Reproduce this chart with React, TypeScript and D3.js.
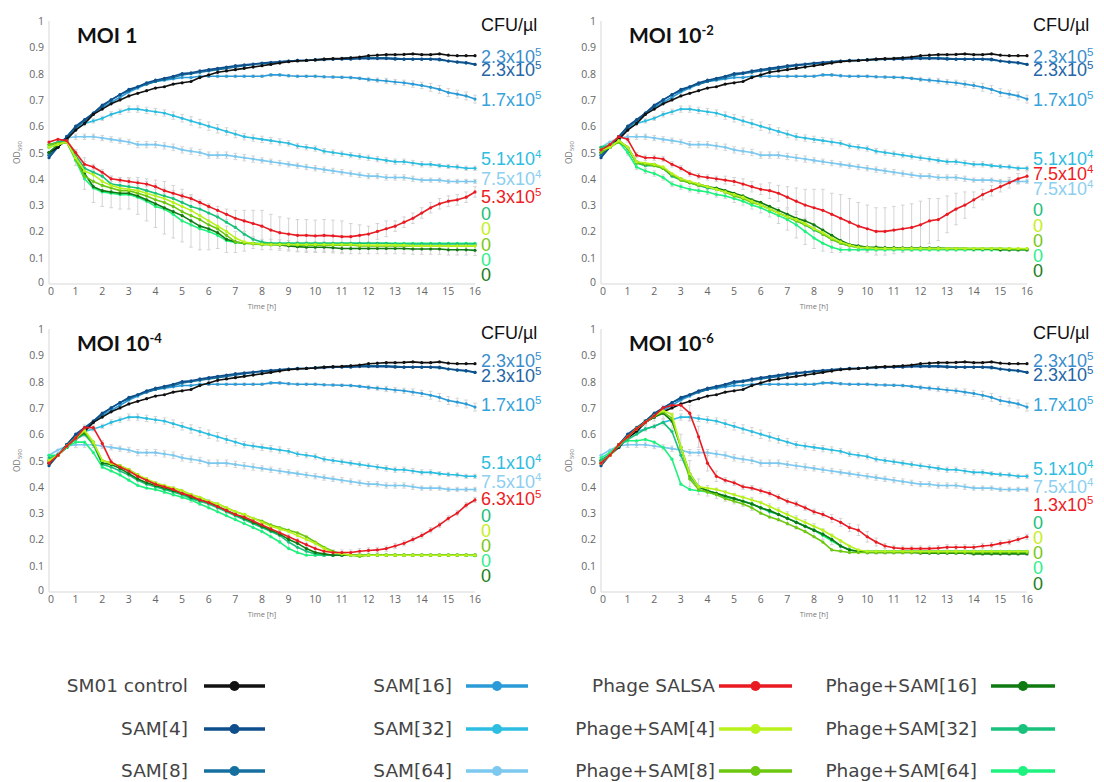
import { useRef, useEffect } from 'react';
import * as d3 from 'd3';

const W = 1104;
const H = 782;

// sampled every 20 min, 0..16 h
const TIME = d3.range(49).map(i => i / 3);

// ---- shared (no phage) curves, identical in all four panels ----
const CONTROL = [
  .50, .52, .55, .585, .61, .645, .665, .685, .70, .715,
  .725, .735, .745, .75, .76, .765, .77, .785, .795, .805,
  .81, .815, .82, .825, .83, .835, .84, .845, .848, .85,
  .852, .855, .857, .858, .86, .863, .868, .87, .872, .872,
  .873, .875, .872, .872, .875, .87, .868, .868, .868];
const SAM4 = [
  .48, .52, .56, .60, .625, .65, .68, .70, .72, .74,
  .75, .765, .775, .782, .79, .80, .803, .81, .815, .82,
  .825, .83, .833, .836, .84, .843, .845, .848, .85, .85,
  .852, .853, .855, .855, .855, .857, .857, .857, .857, .855,
  .855, .855, .855, .855, .855, .848, .845, .842, .835];
const SAM8 = [
  .49, .52, .56, .595, .62, .65, .675, .70, .72, .735,
  .75, .76, .77, .778, .785, .795, .80, .805, .81, .815,
  .82, .825, .83, .835, .838, .84, .845, .848, .85, .85,
  .853, .855, .855, .857, .86, .86, .86, .86, .86, .858,
  .855, .855, .855, .855, .852, .848, .843, .84, .835];
const SAM16 = [
  .49, .52, .56, .595, .62, .645, .67, .69, .71, .73,
  .745, .76, .77, .775, .78, .785, .785, .79, .79, .79,
  .79, .79, .79, .79, .79, .795, .795, .792, .79, .79,
  .79, .788, .787, .786, .785, .782, .778, .775, .772, .768,
  .765, .76, .755, .748, .74, .728, .722, .715, .703];
const SAM32 = [
  .50, .525, .55, .59, .61, .62, .63, .645, .655, .665,
  .665, .66, .655, .65, .64, .63, .62, .61, .60, .59,
  .58, .57, .56, .555, .55, .545, .54, .535, .525, .52,
  .515, .505, .50, .495, .49, .485, .48, .475, .47, .465,
  .465, .46, .455, .455, .45, .447, .445, .44, .44];
const SAM64 = [
  .52, .54, .555, .56, .56, .56, .555, .55, .545, .54,
  .53, .53, .53, .525, .52, .51, .505, .50, .49, .49,
  .49, .485, .48, .475, .47, .465, .46, .455, .45, .445,
  .44, .435, .43, .425, .42, .415, .41, .41, .405, .405,
  .405, .40, .395, .395, .395, .39, .39, .39, .39];

// ---- MOI 1 ----
const RED_1 = [
  .54, .55, .545, .50, .455, .445, .425, .40, .395, .39,
  .385, .38, .37, .355, .345, .335, .325, .31, .295, .28,
  .265, .25, .24, .23, .22, .205, .195, .19, .185, .185,
  .183, .185, .183, .18, .18, .185, .19, .20, .21, .22,
  .235, .25, .27, .29, .305, .315, .32, .33, .35];
const P4_1 = [
  .52, .53, .54, .48, .43, .415, .39, .375, .365, .36,
  .355, .345, .335, .325, .31, .295, .28, .26, .24, .22,
  .20, .175, .16, .155, .152, .15, .15, .15, .15, .15,
  .15, .15, .15, .15, .15, .148, .148, .148, .148, .148,
  .148, .145, .145, .145, .145, .145, .145, .145, .145];
const P8_1 = [
  .53, .535, .54, .475, .41, .39, .375, .365, .355, .355,
  .345, .335, .32, .31, .295, .275, .26, .245, .225, .21,
  .185, .16, .155, .152, .15, .15, .15, .15, .148, .148,
  .148, .148, .148, .148, .148, .145, .145, .145, .145, .145,
  .145, .145, .145, .145, .145, .145, .145, .145, .145];
const P16_1 = [
  .50, .53, .54, .48, .42, .37, .355, .35, .345, .345,
  .335, .32, .305, .29, .275, .26, .24, .22, .21, .195,
  .17, .16, .155, .155, .15, .15, .148, .145, .142, .14,
  .14, .14, .138, .135, .135, .135, .135, .135, .135, .135,
  .135, .133, .133, .133, .133, .13, .13, .13, .128];
const P32_1 = [
  .53, .54, .545, .49, .44, .425, .41, .38, .375, .37,
  .365, .355, .345, .335, .325, .31, .295, .285, .27, .255,
  .235, .215, .19, .17, .16, .155, .155, .155, .155, .155,
  .155, .155, .155, .155, .155, .155, .155, .155, .155, .152,
  .152, .152, .152, .152, .152, .152, .152, .152, .152];
const P64_1 = [
  .52, .53, .54, .47, .40, .365, .35, .345, .34, .34,
  .33, .315, .295, .285, .265, .24, .225, .21, .20, .185,
  .165, .158, .155, .155, .155, .155, .155, .155, .155, .155,
  .155, .155, .155, .155, .155, .155, .155, .155, .155, .155,
  .155, .155, .155, .155, .155, .155, .155, .155, .155];

// ---- MOI 10^-2 ----
const RED_2 = [
  .51, .53, .56, .55, .49, .48, .48, .475, .455, .44,
  .42, .41, .405, .40, .395, .39, .38, .37, .36, .355,
  .345, .33, .315, .30, .29, .28, .265, .25, .235, .22,
  .21, .20, .20, .205, .21, .215, .225, .24, .245, .265,
  .285, .30, .32, .34, .355, .37, .385, .40, .41];
const P4_2 = [
  .51, .52, .545, .52, .465, .46, .455, .445, .42, .40,
  .39, .38, .37, .36, .35, .34, .33, .315, .30, .285,
  .27, .255, .245, .23, .21, .195, .175, .16, .148, .14,
  .138, .135, .135, .135, .135, .135, .135, .135, .135, .135,
  .135, .135, .135, .135, .135, .135, .135, .135, .135];
const P8_2 = [
  .50, .52, .54, .52, .46, .455, .45, .44, .415, .395,
  .385, .375, .37, .36, .35, .335, .325, .31, .30, .285,
  .27, .255, .24, .225, .21, .19, .17, .155, .145, .14,
  .138, .135, .135, .135, .135, .135, .135, .135, .135, .135,
  .135, .135, .135, .135, .135, .135, .133, .133, .133];
const P16_2 = [
  .51, .52, .545, .52, .465, .455, .455, .44, .415, .40,
  .385, .38, .37, .365, .355, .345, .335, .32, .31, .295,
  .28, .265, .25, .24, .225, .205, .185, .165, .15, .145,
  .14, .14, .138, .138, .137, .137, .137, .137, .137, .135,
  .135, .135, .133, .133, .133, .13, .13, .13, .13];
const P32_2 = [
  .52, .525, .54, .515, .46, .45, .45, .44, .41, .395,
  .385, .375, .365, .36, .35, .34, .33, .315, .30, .285,
  .27, .255, .24, .225, .205, .19, .17, .155, .145, .14,
  .137, .135, .135, .135, .135, .135, .135, .135, .135, .135,
  .135, .135, .135, .135, .135, .135, .135, .133, .133];
const P64_2 = [
  .52, .53, .54, .50, .445, .43, .42, .405, .38, .37,
  .36, .355, .35, .34, .335, .325, .315, .30, .29, .275,
  .26, .245, .225, .20, .175, .155, .14, .13, .13, .13,
  .13, .13, .13, .13, .13, .13, .13, .13, .13, .13,
  .13, .13, .13, .13, .13, .13, .13, .13, .13];

// ---- MOI 10^-4 ----
const RED_3 = [
  .49, .52, .555, .585, .625, .625, .565, .495, .475, .46,
  .44, .425, .41, .40, .39, .375, .365, .35, .34, .325,
  .31, .295, .285, .27, .255, .24, .225, .21, .195, .18,
  .165, .155, .15, .15, .15, .155, .158, .16, .165, .175,
  .185, .20, .215, .235, .255, .28, .30, .33, .35];
const P4_3 = [
  .50, .52, .555, .585, .615, .57, .50, .49, .48, .465,
  .445, .43, .415, .405, .395, .385, .37, .36, .345, .335,
  .32, .305, .295, .28, .265, .25, .24, .23, .215, .20,
  .185, .165, .15, .145, .14, .14, .14, .14, .14, .14,
  .14, .14, .14, .14, .14, .14, .14, .14, .14];
const P8_3 = [
  .50, .52, .555, .585, .61, .565, .50, .49, .48, .465,
  .445, .425, .41, .40, .395, .385, .37, .36, .345, .335,
  .32, .305, .295, .28, .27, .255, .245, .235, .225, .21,
  .19, .17, .155, .145, .14, .135, .14, .14, .14, .14,
  .14, .14, .14, .14, .14, .14, .14, .14, .14];
const P16_3 = [
  .49, .52, .555, .585, .605, .57, .49, .485, .47, .45,
  .43, .415, .405, .395, .385, .375, .36, .35, .34, .325,
  .31, .295, .28, .265, .25, .235, .22, .20, .185, .165,
  .15, .145, .14, .14, .14, .14, .14, .14, .14, .14,
  .14, .14, .14, .14, .14, .14, .14, .14, .14];
const P32_3 = [
  .51, .52, .555, .58, .60, .56, .485, .475, .46, .445,
  .425, .41, .40, .39, .38, .37, .355, .345, .335, .32,
  .305, .29, .275, .26, .245, .23, .215, .19, .17, .155,
  .145, .14, .14, .14, .14, .14, .14, .14, .14, .14,
  .14, .14, .14, .14, .14, .14, .14, .14, .14];
const P64_3 = [
  .52, .52, .55, .57, .57, .53, .475, .46, .445, .425,
  .405, .395, .39, .38, .37, .36, .35, .335, .32, .305,
  .29, .275, .26, .245, .23, .21, .19, .165, .15, .14,
  .14, .14, .14, .14, .14, .14, .14, .14, .14, .14,
  .14, .14, .14, .14, .14, .14, .14, .14, .138];

// ---- MOI 10^-6 ----
const RED_4 = [
  .49, .52, .56, .59, .62, .645, .67, .70, .71, .71,
  .68, .59, .49, .44, .425, .415, .40, .395, .385, .375,
  .36, .345, .335, .32, .305, .295, .28, .265, .245, .235,
  .21, .19, .175, .168, .165, .165, .165, .165, .167, .17,
  .17, .17, .17, .175, .178, .185, .19, .20, .21];
const P4_4 = [
  .49, .52, .56, .59, .62, .645, .67, .69, .675, .55,
  .45, .40, .395, .39, .38, .37, .36, .35, .34, .325,
  .31, .295, .28, .265, .25, .235, .215, .195, .175, .16,
  .155, .155, .155, .155, .155, .155, .155, .155, .155, .155,
  .155, .155, .155, .155, .155, .155, .155, .155, .155];
const P8_4 = [
  .49, .52, .56, .59, .62, .645, .67, .685, .66, .55,
  .43, .39, .38, .37, .355, .345, .335, .32, .30, .285,
  .275, .26, .245, .23, .21, .19, .16, .155, .15, .15,
  .15, .15, .15, .15, .15, .15, .15, .15, .15, .15,
  .15, .15, .15, .15, .15, .15, .15, .15, .15];
const P16_4 = [
  .49, .52, .56, .59, .62, .645, .665, .68, .65, .55,
  .45, .40, .385, .375, .365, .355, .345, .335, .32, .31,
  .295, .28, .265, .25, .235, .22, .20, .175, .16, .155,
  .15, .15, .15, .15, .15, .15, .148, .148, .148, .148,
  .148, .148, .145, .145, .145, .145, .145, .145, .145];
const P32_4 = [
  .50, .52, .555, .58, .60, .62, .63, .645, .61, .52,
  .44, .40, .385, .375, .365, .355, .345, .335, .32, .305,
  .295, .28, .265, .25, .235, .22, .20, .175, .16, .155,
  .155, .155, .155, .155, .155, .155, .155, .155, .155, .155,
  .155, .155, .155, .155, .155, .155, .155, .155, .155];
const P64_4 = [
  .51, .53, .56, .575, .575, .58, .57, .55, .505, .41,
  .39, .385, .38, .37, .36, .355, .345, .335, .32, .31,
  .295, .28, .265, .25, .235, .215, .195, .175, .16, .155,
  .155, .155, .155, .155, .155, .155, .155, .155, .155, .155,
  .155, .155, .155, .155, .155, .155, .155, .155, .155];

// ---- error bars (half length, OD) ----
const ERR_SAM16 = [
  0, 0, 0, 0, 0, 0, 0, 0, 0, 0,
  0, 0, 0, 0, 0, 0, .005, .005, .005, .005,
  .005, .005, .005, .005, .005, .005, .005, .005, .005, .005,
  .005, .005, .005, .005, .005, .005, .008, .008, .01, .01,
  .01, .012, .012, .015, .015, .015, .015, .015, .015];
const ERR_SAM32 = [
  0, 0, .005, .005, .008, .008, .008, .01, .01, .012,
  .012, .012, .012, .012, .014, .014, .016, .016, .016, .016,
  .014, .014, .012, .012, .012, .012, .012, .01, .01, .01,
  .01, .01, .01, .01, .01, .01, .01, .01, .01, .01,
  .01, .01, .01, .01, .008, .008, .008, .008, .008];
const ERR_SAM64 = [
  0, 0, .008, .01, .01, .01, .01, .01, .01, .01,
  .012, .012, .012, .012, .012, .012, .012, .012, .012, .012,
  .012, .012, .012, .012, .01, .01, .01, .01, .01, .01,
  .01, .01, .01, .01, .01, .01, .01, .01, .01, .01,
  .01, .01, .008, .008, .008, .008, .008, .008, .008];
const ERR_RED_1 = [
  0, 0, 0, .01, .01, .01, .01, .01, .01, .01,
  .01, .01, .01, .01, .01, .01, .01, .01, .01, .015,
  .02, .03, .04, .05, .06, .06, .06, .06, .06, .06,
  .06, .06, .06, .06, .05, .04, .03, .03, .03, .02,
  .02, .02, .02, .02, .02, .02, .02, .02, .02];
const ERR_GRN_1 = [
  0, 0, 0, .03, .06, .06, .06, .06, .06, .06,
  .07, .08, .09, .1, .1, .1, .1, .09, .08, .06,
  .05, .04, .03, .02, .02, .02, .02, .02, .02, .02,
  .02, .02, .02, .02, .02, .02, .02, .02, .02, .02,
  .02, .02, .02, .02, .02, .02, .02, .02, .02];
const ERR_RED_2 = [
  0, 0, 0, .01, .01, .01, .01, .01, .01, .01,
  .01, .01, .01, .01, .015, .015, .02, .02, .02, .03,
  .03, .04, .05, .06, .07, .08, .08, .09, .09, .09,
  .09, .09, .09, .09, .09, .09, .09, .085, .08, .07,
  .06, .05, .03, .02, .02, .02, .02, .02, .02];
const ERR_GRN_2 = [
  0, 0, 0, .01, .01, .01, .01, .01, .01, .01,
  .01, .01, .01, .01, .01, .015, .015, .015, .02, .02,
  .03, .04, .05, .05, .04, .03, .02, .01, .005, .005,
  .005, .005, .005, .005, .005, .005, .005, .005, .005, .005,
  .005, .005, .005, .005, .005, .005, .005, .005, .005];
const ERR_RED_3 = [
  0, 0, 0, .005, .01, .01, .01, .01, .01, .01,
  .01, .01, .01, .01, .01, .01, .01, .01, .01, .01,
  .01, .01, .01, .01, .01, .01, .01, .01, .01, .01,
  .01, .01, .01, .01, .01, .01, .01, .01, .01, .01,
  .01, .01, .01, .01, .01, .01, .01, .01, .01];
const ERR_GRN_3 = [
  0, 0, 0, .005, .01, .01, .015, .015, .015, .015,
  .015, .015, .015, .015, .015, .015, .015, .015, .015, .015,
  .015, .015, .015, .015, .02, .02, .02, .02, .02, .015,
  .01, .005, .005, .005, .005, .005, .005, .005, .005, .005,
  .005, .005, .005, .005, .005, .005, .005, .005, .005];
const ERR_RED_4 = [
  0, 0, 0, .005, .005, .01, .01, .01, .01, .02,
  .03, .04, .03, .02, .01, .01, .01, .01, .01, .01,
  .01, .01, .01, .01, .01, .01, .015, .015, .015, .02,
  .02, .015, .01, .01, .01, .01, .01, .01, .01, .01,
  .01, .01, .01, .01, .01, .01, .01, .01, .01];
const ERR_GRN_4 = [
  0, 0, 0, .005, .01, .01, .015, .02, .03, .05,
  .05, .03, .02, .02, .02, .02, .02, .025, .025, .025,
  .025, .025, .025, .025, .025, .02, .02, .015, .01, .005,
  .005, .005, .005, .005, .005, .005, .005, .005, .005, .005,
  .005, .005, .005, .005, .005, .005, .005, .005, .005];

// ---- series names / colours ----
const NAMES = [
  'SM01 control', 'SAM[4]', 'SAM[8]', 'SAM[16]', 'SAM[32]', 'SAM[64]',
  'Phage SALSA', 'Phage+SAM[4]', 'Phage+SAM[8]', 'Phage+SAM[16]', 'Phage+SAM[32]', 'Phage+SAM[64]'];
const COLORS = [
  '#111111', '#0e4f8b', '#16709f', '#2a9bd6', '#2cbde0', '#7dc8ee',
  '#e81b23', '#b8f21c', '#6cc70f', '#0f7a12', '#18c27c', '#1ef27e'];

// right-hand CFU/µl annotations: [mantissa, exponent, colour]
const LBL_TOP = [['2.3x10', '5', '#3a8dcc'], ['2.3x10', '5', '#2466a6'], ['1.7x10', '5', '#35a3dc'], ['5.1x10', '4', '#2fbde0']];
const LBL_ZERO = [['0', '', '#22c07c'], ['0', '', '#c6ee24'], ['0', '', '#7ac816'], ['0', '', '#30f08c'], ['0', '', '#1c801c']];
const LBL_1 = [...LBL_TOP, ['7.5x10', '4', '#8dcff0'], ['5.3x10', '5', '#ee1c24'], ...LBL_ZERO];
const LBL_2 = [...LBL_TOP, ['7.5x10', '4', '#ee1c24'], ['7.5x10', '4', '#8dcff0'], ...LBL_ZERO];
const LBL_3 = [...LBL_TOP, ['7.5x10', '4', '#8dcff0'], ['6.3x10', '5', '#ee1c24'], ...LBL_ZERO];
const LBL_4 = [...LBL_TOP, ['7.5x10', '4', '#8dcff0'], ['1.3x10', '5', '#ee1c24'], ...LBL_ZERO];
// OD level at which each annotation is centred
const LBL_AT_1 = [.865, .815, .70, .475, .40, .33, .265, .208, .15, .093, .035];
const LBL_AT_2 = [.865, .815, .70, .477, .42, .36, .28, .222, .165, .108, .05];
const LBL_AT_3 = [.88, .82, .71, .49, .42, .355, .29, .233, .176, .119, .06];
const LBL_AT_4 = [.88, .825, .71, .468, .398, .33, .262, .205, .148, .091, .032];

const Y_TICKS = [0, .1, .2, .3, .4, .5, .6, .7, .8, .9, 1];
const X_TICKS = d3.range(0, 17);

const PANELS = [
  { title: 'MOI 1', exp: '', left: 49, top: 21, phage: [RED_1, P4_1, P8_1, P16_1, P32_1, P64_1], errRed: ERR_RED_1, errGrn: ERR_GRN_1, grnIdx: 3, labels: LBL_1, at: LBL_AT_1 },
  { title: 'MOI 10', exp: '-2', left: 601, top: 21, phage: [RED_2, P4_2, P8_2, P16_2, P32_2, P64_2], errRed: ERR_RED_2, errGrn: ERR_GRN_2, grnIdx: 5, labels: LBL_2, at: LBL_AT_2 },
  { title: 'MOI 10', exp: '-4', left: 49, top: 329, phage: [RED_3, P4_3, P8_3, P16_3, P32_3, P64_3], errRed: ERR_RED_3, errGrn: ERR_GRN_3, grnIdx: 4, labels: LBL_3, at: LBL_AT_3 },
  { title: 'MOI 10', exp: '-6', left: 601, top: 329, phage: [RED_4, P4_4, P8_4, P16_4, P32_4, P64_4], errRed: ERR_RED_4, errGrn: ERR_GRN_4, grnIdx: 3, labels: LBL_4, at: LBL_AT_4 },
];
const PW = 426;
const PH = 263;

const LEGEND_COLS = [
  { textRight: 188, x1: 204, x2: 265, items: [0, 1, 2] },
  { textRight: 452, x1: 466, x2: 528, items: [3, 4, 5] },
  { textRight: 715, x1: 719, x2: 792, items: [6, 7, 8] },
  { textRight: 977, x1: 991, x2: 1055, items: [9, 10, 11] },
];
const LEGEND_ROWS = [686, 729, 771];

export default function App() {
  const svgRef = useRef<SVGSVGElement | null>(null);

  useEffect(() => {
    if (!svgRef.current) return;
    const svg = d3.select(svgRef.current);
    svg.selectAll('*').remove();
    svg.append('rect').attr('width', W).attr('height', H).attr('fill', '#fff');

    PANELS.forEach(p => {
      const x = d3.scaleLinear().domain([0, 16]).range([p.left, p.left + PW]);
      const y = d3.scaleLinear().domain([0, 1]).range([p.top + PH, p.top]);
      const g = svg.append('g');

      // axes
      g.append('line').attr('x1', x(0)).attr('x2', x(0)).attr('y1', y(1)).attr('y2', y(0))
        .attr('stroke', '#e4e4e4').attr('stroke-width', 1.5);
      g.append('line').attr('x1', x(0)).attr('x2', x(16)).attr('y1', y(0)).attr('y2', y(0))
        .attr('stroke', '#e4e4e4').attr('stroke-width', 1.5);

      Y_TICKS.forEach(t => {
        g.append('text').attr('x', x(0) - 5).attr('y', y(t) + (t === 0 ? 2 : 4))
          .attr('text-anchor', 'end').attr('fill', '#666')
          .style('font-family', '"Open Sans", sans-serif').style('font-size', '10.5px')
          .text(t === 0 || t === 1 ? String(t) : t.toFixed(1));
      });
      X_TICKS.forEach(t => {
        g.append('text').attr('x', x(t) + (t === 0 ? 2 : 0)).attr('y', y(0) + 11)
          .attr('text-anchor', 'middle').attr('fill', '#666')
          .style('font-family', '"Open Sans", sans-serif').style('font-size', '10.5px')
          .text(t);
      });
      g.append('text').attr('x', x(8)).attr('y', y(0) + 25)
        .attr('text-anchor', 'middle').attr('fill', '#777')
        .style('font-family', '"Open Sans", sans-serif').style('font-size', '7.5px')
        .text('Time [h]');
      const yl = g.append('text')
        .attr('transform', `translate(${x(0) - 29},${y(0.5)}) rotate(-90)`)
        .attr('text-anchor', 'middle').attr('fill', '#777')
        .style('font-family', '"Open Sans", sans-serif').style('font-size', '8.5px');
      yl.append('tspan').text('OD');
      yl.append('tspan').attr('dy', 2).style('font-size', '6px').text('590');

      // title
      const tt = g.append('text').attr('x', p.left + 28).attr('y', p.top + 22)
        .attr('fill', '#111')
        .style('font-family', 'Lato, sans-serif').style('font-weight', 700).style('font-size', '21px');
      tt.append('tspan').text(p.title);
      if (p.exp) tt.append('tspan').attr('dy', -8).style('font-size', '13px').text(p.exp);

      const all = [CONTROL, SAM4, SAM8, SAM16, SAM32, SAM64, ...p.phage];
      const errs: (number[] | null)[] = [null, null, null, ERR_SAM16, ERR_SAM32, ERR_SAM64, p.errRed, null, null, null, null, null];
      errs[6 + p.grnIdx] = p.errGrn;

      // error bars under the lines
      all.forEach((vals, si) => {
        const e = errs[si];
        if (!e) return;
        vals.forEach((v, i) => {
          if (!e[i]) return;
          const cx = x(TIME[i]);
          const y1 = y(v + e[i]);
          const y2 = y(v - e[i]);
          g.append('line').attr('x1', cx).attr('x2', cx).attr('y1', y1).attr('y2', y2)
            .attr('stroke', '#cfcfcf').attr('stroke-width', 0.9);
          [y1, y2].forEach(yy => g.append('line').attr('x1', cx - 1.8).attr('x2', cx + 1.8)
            .attr('y1', yy).attr('y2', yy).attr('stroke', '#cfcfcf').attr('stroke-width', 0.9));
        });
      });

      const line = d3.line<number>().x((_, i) => x(TIME[i])).y(v => y(v));
      const order = [5, 4, 3, 2, 1, 0, 11, 10, 9, 8, 7, 6];
      order.forEach(si => {
        const vals = all[si];
        g.append('path').attr('d', line(vals)).attr('fill', 'none')
          .attr('stroke', COLORS[si]).attr('stroke-width', 1.6).attr('stroke-linejoin', 'round');
        g.selectAll(null).data(vals).enter().append('circle')
          .attr('cx', (_, i) => x(TIME[i])).attr('cy', v => y(v)).attr('r', 1.6)
          .attr('fill', COLORS[si]);
      });

      // CFU annotations
      const lx = p.left + PW + 6;
      g.append('text').attr('x', lx).attr('y', p.top + 10).attr('fill', '#111')
        .style('font-family', '"Liberation Sans", Arial, sans-serif').style('font-size', '18px')
        .text('CFU/µl');
      p.labels.forEach((l, i) => {
        const t = g.append('text').attr('x', lx).attr('y', y(p.at[i]) + 6).attr('fill', l[2])
          .style('font-family', '"Liberation Sans", Arial, sans-serif').style('font-size', '18px');
        t.append('tspan').text(l[0]);
        if (l[1]) t.append('tspan').attr('dy', -7).style('font-size', '11.5px').text(l[1]);
      });
    });

    // legend
    LEGEND_COLS.forEach(c => {
      c.items.forEach((si, r) => {
        const yy = LEGEND_ROWS[r];
        svg.append('text').attr('x', c.textRight).attr('y', yy + 6).attr('text-anchor', 'end')
          .attr('fill', '#444')
          .style('font-family', '"DejaVu Sans", Verdana, sans-serif').style('font-size', '18.5px')
          .text(NAMES[si]);
        svg.append('line').attr('x1', c.x1).attr('x2', c.x2).attr('y1', yy).attr('y2', yy)
          .attr('stroke', COLORS[si]).attr('stroke-width', 3.5);
        svg.append('circle').attr('cx', (c.x1 + c.x2) / 2).attr('cy', yy).attr('r', 5)
          .attr('fill', COLORS[si]);
      });
    });
  }, []);

  return (
    <svg ref={svgRef} width={W} height={H}
      style={{ position: 'absolute', left: 0, top: 0, display: 'block' }} />
  );
}
